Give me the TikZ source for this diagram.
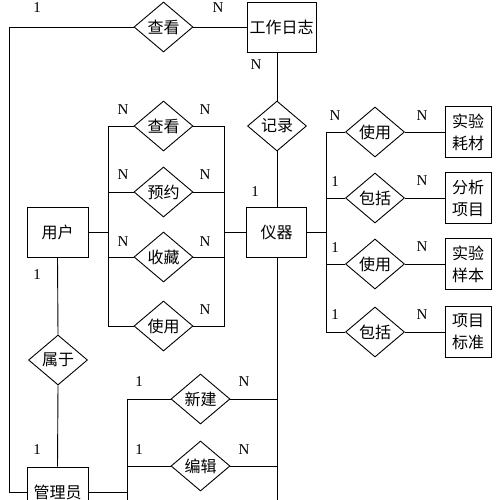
\documentclass[tikz,border=0pt]{standalone}
\usepackage{fontspec}
\setmainfont{Liberation Serif}
\newfontfamily\cjk{Noto Sans CJK SC}
\usetikzlibrary{shapes.geometric}
\begin{document}
\begin{tikzpicture}[x=1pt,y=-1pt,line width=0.9pt,
  ent/.style={draw,rectangle,inner sep=0pt,font=\cjk\fontsize{16}{22}\selectfont,align=center},
  rel/.style={draw,diamond,inner sep=0pt,minimum width=59pt,minimum height=50pt,font=\cjk\fontsize{16}{20}\selectfont},
  card/.style={inner sep=0pt,font=\fontsize{15}{17}\selectfont}]
\useasboundingbox (0,0) rectangle (500,500);
\clip (0,0) rectangle (500,500);
% entities
\node[ent,minimum width=69pt,minimum height=50pt] (rz) at (281.5,27) {工作日志};
\node[ent,minimum width=61pt,minimum height=50pt] (yh) at (57.5,232) {用户};
\node[ent,minimum width=60pt,minimum height=50pt] (yq) at (276.5,232) {仪器};
\node[ent,minimum width=61pt,minimum height=50pt] (gly) at (57.5,492) {管理员};
\node[ent,minimum width=46pt,minimum height=51pt] (sh) at (468,132) {实验\\耗材};
\node[ent,minimum width=46pt,minimum height=51pt] (fx) at (468,198) {分析\\项目};
\node[ent,minimum width=46pt,minimum height=51pt] (yb) at (468,264) {实验\\样本};
\node[ent,minimum width=46pt,minimum height=51pt] (bz) at (468,332) {项目\\标准};
% relationships
\node[rel] (ck0) at (163.5,27) {查看};
\node[rel] (jl) at (277,126) {记录};
\node[rel] (ck1) at (163.5,126) {查看};
\node[rel] (yy) at (163.5,192) {预约};
\node[rel] (sc) at (163.5,257) {收藏};
\node[rel] (sy1) at (163.5,326) {使用};
\node[rel] (shu) at (58,360) {属于};
\node[rel] (xj) at (200.5,399) {新建};
\node[rel] (bj) at (200.5,466) {编辑};
\node[rel] (sy2) at (375,132) {使用};
\node[rel] (bk1) at (375,198) {包括};
\node[rel] (sy3) at (375,264) {使用};
\node[rel] (bk2) at (375,332) {包括};
% helper coordinates
\coordinate (lt) at (9,0);
\coordinate (brL) at (108,0);
\coordinate (brR) at (224,0);
\coordinate (brA) at (326,0);
\coordinate (brM) at (127,0);
\coordinate (bot) at (0,505);
% connectors
\draw (ck0.west) -- (ck0.west -| lt) |- (gly.west);
\draw (ck0.east) -- (rz.west);
\draw (jl.north) -- (jl.north |- rz.south);
\draw (jl.south) -- (jl.south |- yq.north);
\draw (yh.east) -- (yh.east -| brL);
\draw (ck1.west) -- (ck1.west -| brL) -- (sy1.west -| brL) -- (sy1.west);
\draw (yy.west) -- (yy.west -| brL);
\draw (sc.west) -- (sc.west -| brL);
\draw (yq.west) -- (yq.west -| brR);
\draw (ck1.east) -- (ck1.east -| brR) -- (sy1.east -| brR) -- (sy1.east);
\draw (yy.east) -- (yy.east -| brR);
\draw (sc.east) -- (sc.east -| brR);
\draw (yh.south) -- (shu.north);
\draw (shu.south) -- (gly.north);
\draw (yq.east) -- (yq.east -| brA);
\draw (sy2.west) -- (sy2.west -| brA) -- (bk2.west -| brA) -- (bk2.west);
\draw (bk1.west) -- (bk1.west -| brA);
\draw (sy3.west) -- (sy3.west -| brA);
\draw (sy2.east) -- (sh.west);
\draw (bk1.east) -- (fx.west);
\draw (sy3.east) -- (yb.west);
\draw (bk2.east) -- (bz.west);
\draw (jl.south |- yq.south) -- (jl.south |- bot);
\draw (xj.east) -- (xj.east -| jl.south);
\draw (bj.east) -- (bj.east -| jl.south);
\draw (gly.east) -- (gly.east -| brM);
\draw (xj.west) -- (xj.west -| brM) -- (brM |- bot);
\draw (bj.west) -- (bj.west -| brM);
% cardinalities
\node[card] (c1) at (37,8) {1};
\node[card] (c2) at (218,8) {N};
\node[card] (c3) at (256,65) {N};
\node[card] (c4) at (255,192) {1};
\node[card] (c5) at (123,110) {N};
\node[card] (c6) at (205,110) {N};
\node[card] (c7) at (123,175) {N};
\node[card] (c8) at (205,175) {N};
\node[card] (c9) at (123,242) {N};
\node[card] (c10) at (205,242) {N};
\node[card] (c11) at (205,310) {N};
\node[card] (c12) at (37,275) {1};
\node[card] (c13) at (37,450) {1};
\node[card] (c14) at (139,382) {1};
\node[card] (c15) at (244,382) {N};
\node[card] (c16) at (139,450) {1};
\node[card] (c17) at (244,450) {N};
\node[card] (c18) at (335,116) {N};
\node[card] (c19) at (422,116) {N};
\node[card] (c20) at (335,182) {1};
\node[card] (c21) at (422,181) {N};
\node[card] (c22) at (335,248) {1};
\node[card] (c23) at (422,247) {N};
\node[card] (c24) at (335,315) {1};
\node[card] (c25) at (422,315) {N};
\end{tikzpicture}
\end{document}
